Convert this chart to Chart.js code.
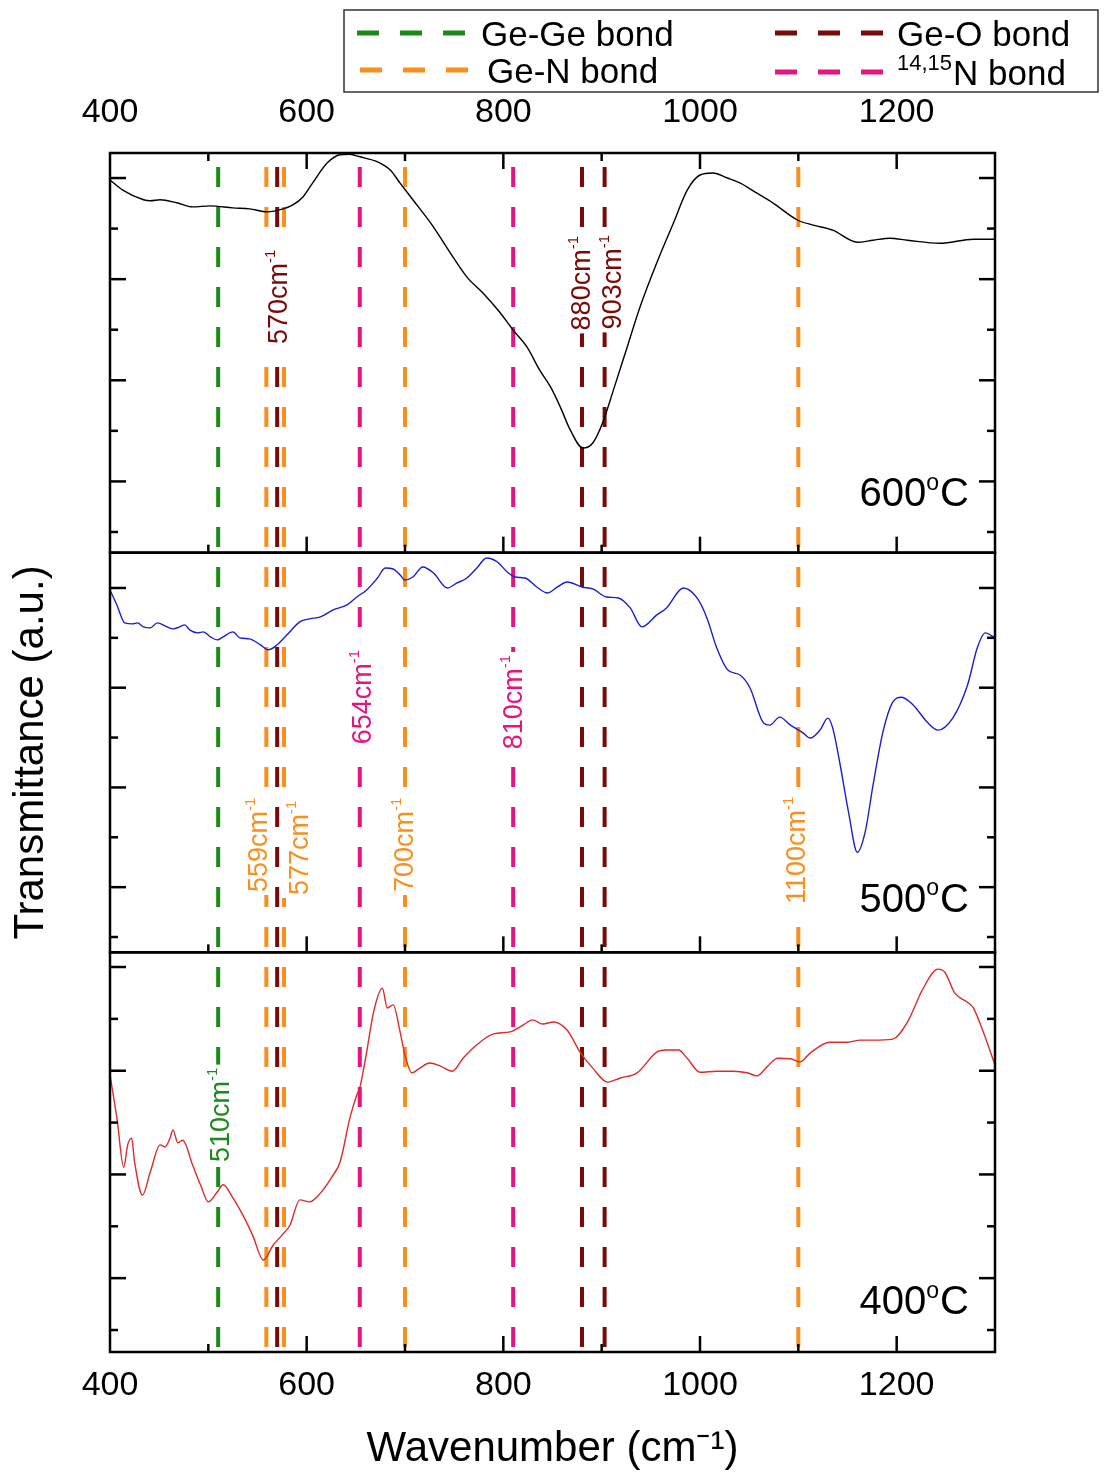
<!DOCTYPE html>
<html>
<head>
<meta charset="utf-8">
<script src="https://cdn.jsdelivr.net/npm/chart.js@4.4.1/dist/chart.umd.min.js"></script>
<style>
html,body{margin:0;padding:0;background:#fff;}
canvas{display:block;}
</style>
</head>
<body>
<canvas id="c" width="1107" height="1483"></canvas>
<script>
// ---------- data ----------
const wavenumber600 = [400,413,434,441,451,468,484,502,525,542,560,576,586,596,606,621,634,644,654,672,685,695,708,729,746,763,779,797,810,824,837,848,858,868,881,891,901,912,926,939,956,973,987,1000,1013,1028,1041,1058,1074,1099,1115,1135,1160,1176,1193,1211,1244,1278,1300];
const trans600 = [6.96,6.76,6.57,6.55,6.57,6.51,6.43,6.45,6.41,6.39,6.33,6.39,6.47,6.62,6.90,7.30,7.46,7.47,7.42,7.32,7.16,6.90,6.57,6.03,5.52,5.04,4.73,4.33,3.99,3.66,3.20,2.87,2.47,2.02,1.66,1.76,2.16,2.81,3.66,4.45,5.32,6.11,6.76,7.06,7.10,7.00,6.90,6.70,6.51,6.17,6.07,5.97,5.73,5.77,5.81,5.77,5.71,5.79,5.79];

const wavenumber500 = [400,407,415,423,428,434,441,448,458,464,471,476,481,489,495,502,509,515,525,532,542,553,561,570,580,593,603,614,627,641,651,661,672,680,688,695,700,708,718,729,743,753,763,773,783,794,804,812,822,834,845,855,865,880,891,905,917,929,941,956,966,983,997,1007,1017,1028,1041,1051,1064,1071,1081,1092,1105,1112,1122,1130,1135,1142,1151,1160,1168,1176,1186,1196,1205,1217,1231,1242,1257,1272,1282,1290,1300];
const trans500 = [6.96,6.66,6.30,6.28,6.30,6.22,6.20,6.30,6.22,6.18,6.22,6.26,6.16,6.10,6.12,6.02,5.96,6.02,6.12,6.00,5.98,5.86,5.76,5.86,6.06,6.32,6.38,6.42,6.56,6.66,6.82,6.96,7.20,7.40,7.38,7.26,7.16,7.22,7.42,7.30,7.00,7.10,7.20,7.40,7.60,7.52,7.32,7.22,7.20,7.02,6.90,7.02,7.12,7.02,6.98,6.82,6.80,6.60,6.22,6.46,6.60,7.00,6.80,6.40,5.80,5.36,5.25,4.99,4.31,4.25,4.41,4.25,4.09,3.99,4.15,4.39,4.19,3.51,2.51,1.70,2.11,3.05,4.11,4.71,4.81,4.65,4.31,4.15,4.39,5.05,5.80,6.10,6.00];

const wavenumber400 = [400,407,414,418,422,425,433,441,451,456,461,464,469,474,484,492,500,509,515,525,535,545,556,566,575,583,593,603,614,627,634,644,651,654,661,668,677,682,688,695,700,707,715,725,736,748,759,773,790,807,820,830,840,851,865,878,891,906,919,936,956,966,978,987,1000,1017,1034,1048,1058,1068,1079,1092,1102,1112,1132,1150,1163,1176,1196,1211,1227,1242,1249,1259,1272,1278,1288,1300];
const trans400 = [4.92,4.09,3.14,3.57,3.70,3.24,2.60,3.05,3.57,3.53,3.70,3.86,3.61,3.66,3.18,2.80,2.47,2.66,2.80,2.55,2.22,1.83,1.35,1.64,1.83,2.02,2.51,2.47,2.64,2.99,3.24,4.09,4.53,4.67,5.36,6.13,6.59,6.21,6.27,5.75,5.30,4.96,5.05,5.15,5.09,4.99,5.24,5.50,5.71,5.75,5.88,5.98,5.90,5.94,5.78,5.36,5.05,4.78,4.86,4.96,5.36,5.40,5.40,5.24,4.97,4.99,4.99,4.96,4.90,5.07,5.24,5.23,5.17,5.34,5.55,5.55,5.59,5.59,5.61,5.94,6.59,6.96,6.90,6.50,6.32,6.21,5.75,5.11];

const geGeBonds = [510];
const geNBonds = [559, 577, 700, 1100];
const geOBonds = [570, 880, 903];
const n1415Bonds = [654, 810];

const xTickLabels = [400, 600, 800, 1000, 1200];
const panelTitles = ['600°C', '500°C', '400°C'];
const bondNames = ['Ge-Ge bond', 'Ge-N bond', 'Ge-O bond', '14,15N bond'];

// ---------- styling ----------
const FONT = '"Liberation Sans", Arial, Helvetica, sans-serif';
const COL = { geGe: '#1b8a1b', geN: '#f7901e', geO: '#7a0a0a', n: '#e6147f' };
Chart.defaults.font.family = FONT;
Chart.defaults.color = '#000';

function toXY(xs, ys) { return xs.map((x, i) => ({ x: x, y: ys[i] })); }
function vLines(list) {
  const d = [];
  list.forEach(w => { d.push({ x: w, y: 1 }, { x: w, y: 0 }, { x: w, y: null }); });
  return d;
}
function colorOf(wn) {
  if (geGeBonds.includes(wn)) return COL.geGe;
  if (geNBonds.includes(wn)) return COL.geN;
  if (geOBonds.includes(wn)) return COL.geO;
  return COL.n;
}

function curve(label, xs, ys, axis, color) {
  return { label, data: toXY(xs, ys), xAxisID: 'x', yAxisID: axis, borderColor: color,
    borderWidth: 1.4, pointRadius: 0, fill: false, cubicInterpolationMode: 'monotone', order: 0 };
}
function bondSet(label, list, color) {
  return { label, data: vLines(list), xAxisID: 'x', yAxisID: 'yFull', borderColor: color,
    borderWidth: 4, borderDash: [20, 20], borderDashOffset: 26, pointRadius: 0, fill: false,
    spanGaps: false, tension: 0, order: 1 };
}

// ---------- plugins ----------
function drawLine(ctx, x1, y1, x2, y2) { ctx.beginPath(); ctx.moveTo(x1, y1); ctx.lineTo(x2, y2); ctx.stroke(); }

const peakLabelPlugin = {
  id: 'peakLabels',
  afterDatasetsDraw(chart, args, opts) {
    const ctx = chart.ctx, xs = chart.scales.x;
    const fs = opts.fontSize, ss = opts.supSize;
    opts.labels.forEach(l => {
      const ys = chart.scales[l.axis];
      const cx = xs.getPixelForValue(l.wn) + l.dx;
      const cy = ys.getPixelForValue(l.y);
      ctx.save();
      ctx.translate(cx, cy);
      ctx.rotate(-Math.PI / 2);
      const main = l.wn + 'cm', sup = '-1';
      ctx.font = fs + 'px ' + FONT; const wm = ctx.measureText(main).width;
      ctx.font = ss + 'px ' + FONT; const wsp = ctx.measureText(sup).width;
      const w = wm + wsp;
      ctx.fillStyle = '#fff';
      ctx.fillRect(-w / 2 - 3, -0.65 * fs, w + 6, 1.1 * fs);
      ctx.fillStyle = colorOf(l.wn);
      ctx.textAlign = 'left'; ctx.textBaseline = 'alphabetic';
      ctx.font = fs + 'px ' + FONT; ctx.fillText(main, -w / 2, 0.36 * fs);
      ctx.font = ss + 'px ' + FONT; ctx.fillText(sup, -w / 2 + wm, 0.36 * fs - 0.45 * fs);
      ctx.restore();
    });
    // temperature labels
    const ts = opts.tempSize, tsup = opts.tempSupSize;
    opts.temps.forEach((t, i) => {
      const ys = chart.scales[t.axis];
      const txt = panelTitles[i];
      const parts = txt.split('°');
      const cy = ys.getPixelForValue(t.y);
      const right = xs.right + t.dxRight;
      ctx.save();
      ctx.fillStyle = '#000'; ctx.textAlign = 'left'; ctx.textBaseline = 'alphabetic';
      ctx.font = ts + 'px ' + FONT; const w1 = ctx.measureText(parts[0]).width; const w3 = ctx.measureText(parts[1]).width;
      ctx.font = tsup + 'px ' + FONT; const w2 = ctx.measureText('o').width;
      let x0 = right - (w1 + w2 + w3 + 1);
      const base = cy + 0.36 * ts;
      ctx.font = ts + 'px ' + FONT; ctx.fillText(parts[0], x0, base);
      ctx.font = tsup + 'px ' + FONT; ctx.fillText('o', x0 + w1, base - 0.42 * ts);
      ctx.font = ts + 'px ' + FONT; ctx.fillText(parts[1], x0 + w1 + w2 + 1, base);
      ctx.restore();
    });
  }
};

const framePlugin = {
  id: 'panelFrame',
  afterDraw(chart, args, opts) {
    const ctx = chart.ctx, xs = chart.scales.x;
    const panels = ['yTop', 'yMid', 'yBot'].map(id => chart.scales[id]);
    ctx.save();
    ctx.strokeStyle = '#000'; ctx.lineWidth = opts.lineWidth; ctx.setLineDash([]);
    const L = xs.left, R = xs.right;
    panels.forEach((ys, i) => {
      const T = ys.top, B = ys.bottom;
      for (let v = Math.ceil(ys.min); v <= Math.floor(ys.max); v++) {
        const py = ys.getPixelForValue(v);
        const len = (v % 2 === 1) ? opts.major : opts.minor;
        drawLine(ctx, L, py, L + len, py);
        drawLine(ctx, R, py, R - len, py);
      }
      xs.ticks.forEach(t => {
        if (t.value <= xs.min || t.value >= xs.max) return;
        const px = xs.getPixelForValue(t.value);
        const len = (t.value % 200 === 0) ? opts.major : opts.minor;
        drawLine(ctx, px, B, px, B - len);
        if (i === 0) drawLine(ctx, px, T, px, T + len);
      });
      ctx.strokeRect(L, T, R - L, B - T);
    });
    ctx.restore();
  }
};

const legendPlugin = {
  id: 'bondLegend',
  afterDraw(chart, args, opts) {
    const ctx = chart.ctx;
    ctx.save();
    ctx.strokeStyle = '#333'; ctx.lineWidth = 1.5; ctx.setLineDash([]);
    ctx.strokeRect(opts.box.x, opts.box.y, opts.box.w, opts.box.h);
    const fs = opts.fontSize;
    opts.items.forEach(it => {
      const ds = chart.data.datasets[it.dataset];
      ctx.strokeStyle = ds.borderColor; ctx.lineWidth = 5; ctx.setLineDash([22, 21]);
      drawLine(ctx, it.x0, it.y, it.x1, it.y);
      ctx.setLineDash([]);
      ctx.fillStyle = '#000'; ctx.textAlign = 'left'; ctx.textBaseline = 'alphabetic';
      let tx = it.tx, text = ds.label;
      const base = it.y + 0.36 * fs;
      if (it.sup) {
        ctx.font = opts.supSize + 'px ' + FONT;
        ctx.fillText(it.sup, tx, base - 0.42 * fs);
        tx += ctx.measureText(it.sup).width + 1;
        text = text.slice(it.sup.length);
      }
      ctx.font = fs + 'px ' + FONT;
      ctx.fillText(text, tx, base);
    });
    ctx.restore();
  }
};

// ---------- chart ----------
const tickFont = { family: FONT, size: 34 };
const tickCb = v => xTickLabels.includes(v) ? String(v) : '';

new Chart(document.getElementById('c'), {
  type: 'line',
  data: {
    datasets: [
      curve('600°C', wavenumber600, trans600, 'yTop', '#000000'),
      curve('500°C', wavenumber500, trans500, 'yMid', '#1d1dd0'),
      curve('400°C', wavenumber400, trans400, 'yBot', '#dd2a2a'),
      bondSet(bondNames[0], geGeBonds, COL.geGe),
      bondSet(bondNames[1], geNBonds, COL.geN),
      bondSet(bondNames[2], geOBonds, COL.geO),
      bondSet(bondNames[3], n1415Bonds, COL.n)
    ]
  },
  options: {
    responsive: false,
    devicePixelRatio: 1,
    animation: false,
    events: [],
    layout: { padding: { left: 0, right: 112, top: 0, bottom: 0 } },
    plugins: {
      legend: { display: false },
      tooltip: { enabled: false },
      peakLabels: {
        fontSize: 27, supSize: 15, tempSize: 40, tempSupSize: 23,
        labels: [
          { wn: 570, axis: 'yTop', y: 4.65, dx: 0 },
          { wn: 880, axis: 'yTop', y: 4.92, dx: -2 },
          { wn: 903, axis: 'yTop', y: 4.94, dx: 7 },
          { wn: 654, axis: 'yMid', y: 4.81, dx: 2 },
          { wn: 810, axis: 'yMid', y: 4.71, dx: -1 },
          { wn: 559, axis: 'yMid', y: 1.85, dx: -9 },
          { wn: 577, axis: 'yMid', y: 1.79, dx: 14 },
          { wn: 700, axis: 'yMid', y: 1.85, dx: -2 },
          { wn: 1100, axis: 'yMid', y: 1.74, dx: -3 },
          { wn: 510, axis: 'yBot', y: 4.15, dx: 1 }
        ],
        temps: [
          { axis: 'yTop', y: 0.79, dxRight: -26 },
          { axis: 'yMid', y: 0.80, dxRight: -26 },
          { axis: 'yBot', y: 0.58, dxRight: -26 }
        ]
      },
      panelFrame: { lineWidth: 2.5, major: 16, minor: 8 },
      bondLegend: {
        box: { x: 344, y: 10, w: 754, h: 82 },
        fontSize: 35, supSize: 22,
        items: [
          { dataset: 3, x0: 357, x1: 465, y: 33, tx: 481 },
          { dataset: 4, x0: 360, x1: 468, y: 70, tx: 487 },
          { dataset: 5, x0: 775, x1: 883, y: 33, tx: 897 },
          { dataset: 6, x0: 775, x1: 883, y: 72, tx: 897, sup: '14,15' }
        ]
      }
    },
    scales: {
      x: {
        type: 'linear', position: 'bottom', min: 400, max: 1300,
        ticks: { stepSize: 100, autoSkip: false, maxRotation: 0, minRotation: 0, padding: 13, color: '#000', font: tickFont, callback: tickCb },
        grid: { display: false, drawTicks: false }, border: { display: false },
        title: { display: true, text: 'Wavenumber (cm⁻¹)', color: '#000', font: { family: FONT, size: 42 }, padding: { top: 0, bottom: 8 } },
        afterFit: s => { s.height = 131; }
      },
      x2: {
        type: 'linear', position: 'top', min: 400, max: 1300,
        ticks: { stepSize: 100, autoSkip: false, maxRotation: 0, minRotation: 0, padding: 20, color: '#000', font: tickFont, callback: tickCb },
        grid: { display: false, drawTicks: false }, border: { display: false },
        afterFit: s => { s.height = 153; }
      },
      yFull: {
        type: 'linear', position: 'left', min: 0, max: 1, weight: 10,
        ticks: { display: false }, grid: { display: false, drawTicks: false }, border: { display: false },
        title: { display: true, text: 'Transmittance (a.u.)', color: '#000', font: { family: FONT, size: 42 }, padding: { top: 6, bottom: 0 } },
        afterFit: s => { s.width = 110; }
      },
      yTop: { type: 'linear', position: 'left', stack: 'panels', stackWeight: 1, weight: 3, display: false, min: -0.409, max: 7.495 },
      yMid: { type: 'linear', position: 'left', stack: 'panels', stackWeight: 1, weight: 2, display: false, min: -0.307, max: 7.708 },
      yBot: { type: 'linear', position: 'left', stack: 'panels', stackWeight: 1, weight: 1, display: false, min: -0.424, max: 7.283 }
    }
  },
  plugins: [peakLabelPlugin, framePlugin, legendPlugin]
});
</script>
</body>
</html>
